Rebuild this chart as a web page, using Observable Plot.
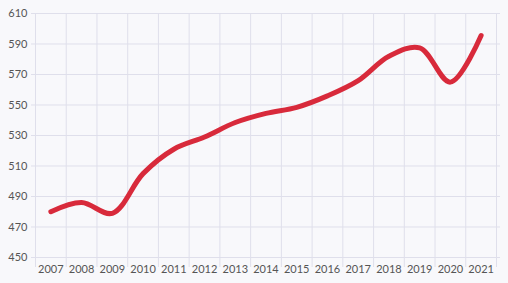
<!DOCTYPE html>
<html>
<head>
<meta charset="utf-8">
<script src="https://cdn.jsdelivr.net/npm/d3@7"></script>
<script src="https://cdn.jsdelivr.net/npm/@observablehq/plot@0.6"></script>
<style>
  html, body { margin: 0; padding: 0; background: #f8f8fb; }
  #chart { width: 508px; height: 283px; }
</style>
</head>
<body>
<div id="chart"></div>
<script>
const years = [2007, 2008, 2009, 2010, 2011, 2012, 2013, 2014, 2015, 2016, 2017, 2018, 2019, 2020, 2021];
const values = [480, 486, 479, 505, 521, 529, 538.5, 544.5, 548.5, 556, 566, 582, 587.5, 565, 595.5];
const yTicks = [450, 470, 490, 510, 530, 550, 570, 590, 610];
const xGrid = d3.range(2006.5, 2022, 1);

const data = years.map((y, i) => ({year: y, value: values[i]}));
const gridColor = "#dfdfeb";

const chart = Plot.plot({
  width: 508,
  height: 283,
  marginLeft: 35,
  marginRight: 12,
  marginTop: 13,
  marginBottom: 26,
  style: {background: "#f8f8fb", fontFamily: "Lato, 'Open Sans', sans-serif", fontSize: "11px", color: "#555"},
  x: {type: "linear", domain: [2006.5, 2021.5]},
  y: {domain: [450, 610]},
  marks: [
    Plot.gridY(yTicks, {stroke: gridColor, strokeOpacity: 1, strokeWidth: 1, insetLeft: -4, insetRight: -4}),
    Plot.gridX(xGrid, {stroke: gridColor, strokeOpacity: 1, strokeWidth: 1, insetBottom: -10}),
    Plot.axisY(yTicks, {tickSize: 0, tickPadding: 8, label: null, fill: "#555"}),
    Plot.axisX(years, {tickSize: 0, tickPadding: 8, tickFormat: d => String(d), label: null, fill: "#555"}),
    Plot.line(data, {x: "year", y: "value", stroke: "#d82a3b", strokeWidth: 5, curve: "catmull-rom", strokeLinecap: "round", strokeLinejoin: "round"})
  ]
});
document.getElementById("chart").appendChild(chart);
</script>
</body>
</html>
